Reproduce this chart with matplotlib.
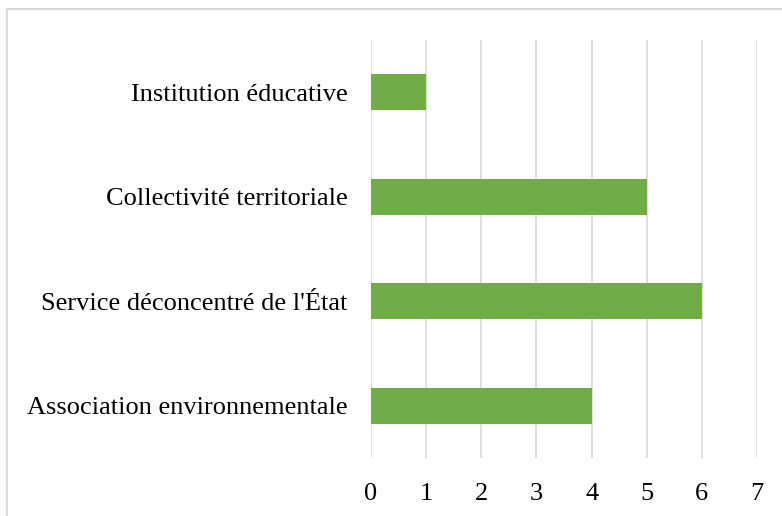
import matplotlib.pyplot as plt
from matplotlib.patches import Rectangle

categories = ['Association environnementale', "Service déconcentré de l'État",
              'Collectivité territoriale', 'Institution éducative']
values = [4, 6, 5, 1]
xticks = [0, 1, 2, 3, 4, 5, 6, 7]

plt.rcParams['font.family'] = ['Liberation Serif', 'DejaVu Serif']

fig = plt.figure(figsize=(7.82, 5.16), dpi=100)
ax = fig.add_axes([371 / 782, 1 - 458 / 516, 386 / 782, 418 / 516])

ax.barh(categories, values, height=0.34, color='#70AD47', zorder=3)
ax.set_xlim(0, 7)
ax.set_ylim(-0.5, 3.5)
ax.set_xticks(xticks)
ax.grid(axis='x', color='#D9D9D9', linewidth=1.2, zorder=0)
for s in ax.spines.values():
    s.set_visible(False)
ax.tick_params(axis='both', length=0, labelsize=19, colors='black')
ax.tick_params(axis='x', pad=18)
ax.tick_params(axis='y', pad=17)

# light border around the chart area
fig.patches.append(Rectangle((7 / 782, -0.1), 1.2, 1 - 9 / 516 + 0.1,
                             transform=fig.transFigure, fill=False,
                             edgecolor='#D9D9D9', linewidth=1.5))

fig.savefig('out.png', dpi=100)
